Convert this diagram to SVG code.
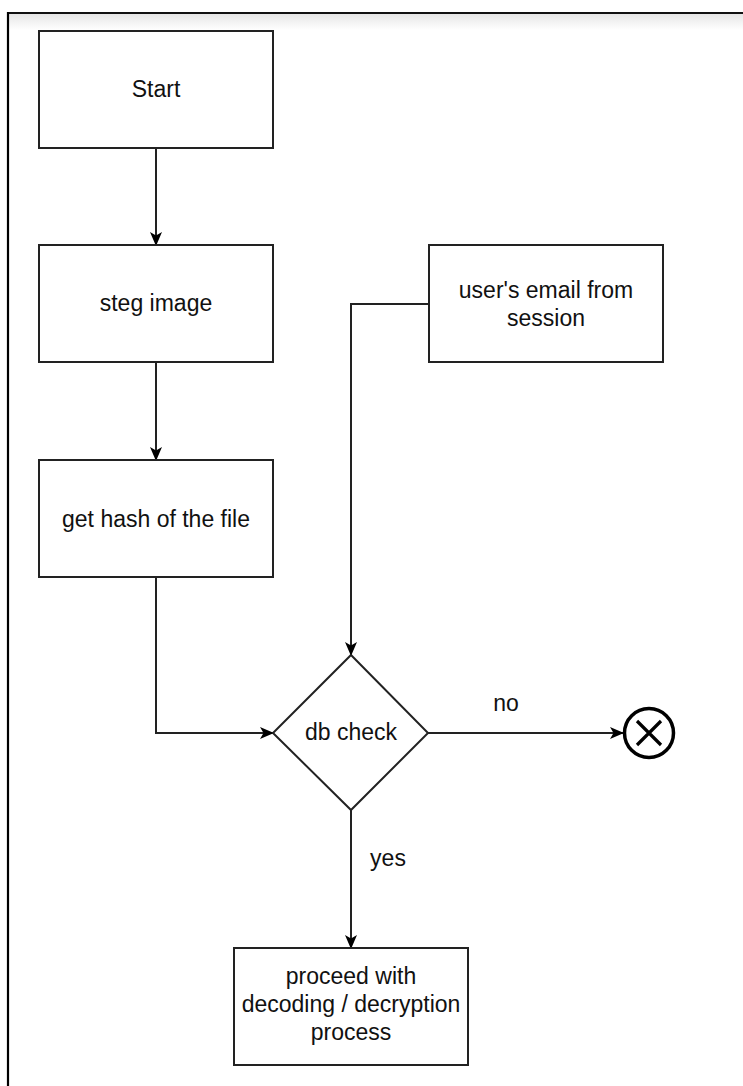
<svg xmlns="http://www.w3.org/2000/svg" width="743" height="1086" viewBox="0 0 743 1086">
<style>
.box{fill:#fff;stroke:#222;stroke-width:2}
.t{font-family:"Liberation Sans",Arial,sans-serif;font-size:23px;fill:#111;text-anchor:middle}
.c{fill:none;stroke:#222;stroke-width:2}
</style>
<defs>
<marker id="ah" viewBox="0 0 14 12" refX="13" refY="6" markerWidth="14" markerHeight="12" markerUnits="userSpaceOnUse" orient="auto">
<path d="M0,0 L14,6 L0,12 L3.5,6 Z" fill="#000"/>
</marker>
<linearGradient id="sh" x1="0" y1="0" x2="0" y2="1">
<stop offset="0" stop-color="#e6e6e6"/>
<stop offset="1" stop-color="#fff"/>
</linearGradient>
</defs>
<rect x="0" y="0" width="743" height="1086" fill="#fff"/>
<rect x="9" y="14" width="734" height="16" fill="url(#sh)"/>
<g id="frame">
<line x1="8" y1="13" x2="743" y2="13" stroke="#111" stroke-width="2.2"/>
<line x1="8" y1="12" x2="8" y2="1086" stroke="#000" stroke-width="2.2"/>
</g>
<g id="connectors">
<line class="c" x1="156" y1="148" x2="156" y2="245" marker-end="url(#ah)"/>
<line class="c" x1="156" y1="362" x2="156" y2="460" marker-end="url(#ah)"/>
<polyline class="c" points="156,577 156,733 273,733" marker-end="url(#ah)"/>
<polyline class="c" points="429,304 351,304 351,655" marker-end="url(#ah)"/>
<line class="c" x1="428" y1="733" x2="623" y2="733" marker-end="url(#ah)"/>
<line class="c" x1="351" y1="810" x2="351" y2="948" marker-end="url(#ah)"/>
<text class="t" x="506" y="711">no</text>
<text class="t" x="388" y="866">yes</text>
</g>
<g id="start">
<rect class="box" x="39" y="31" width="234" height="117"/>
<text class="t" x="156" y="97">Start</text>
</g>
<g id="steg">
<rect class="box" x="39" y="245" width="234" height="117"/>
<text class="t" x="156" y="311">steg image</text>
</g>
<g id="hash">
<rect class="box" x="39" y="460" width="234" height="117"/>
<text class="t" x="156" y="527">get hash of the file</text>
</g>
<g id="email">
<rect class="box" x="429" y="245" width="234" height="117"/>
<text class="t" x="546" y="298">user's email from</text>
<text class="t" x="546" y="326">session</text>
</g>
<g id="dbcheck">
<polygon class="box" points="351,655 428,733 351,810 273,733"/>
<text class="t" x="351" y="740">db check</text>
</g>
<g id="end">
<circle cx="649" cy="733" r="24.5" fill="#fff" stroke="#000" stroke-width="3.5"/>
<path d="M637,721 L661,745 M661,721 L637,745" stroke="#000" stroke-width="3.2"/>
</g>
<g id="proceed">
<rect class="box" x="234" y="948" width="234" height="117"/>
<text class="t" x="351" y="984">proceed with</text>
<text class="t" x="351" y="1012">decoding / decryption</text>
<text class="t" x="351" y="1040">process</text>
</g>
</svg>
